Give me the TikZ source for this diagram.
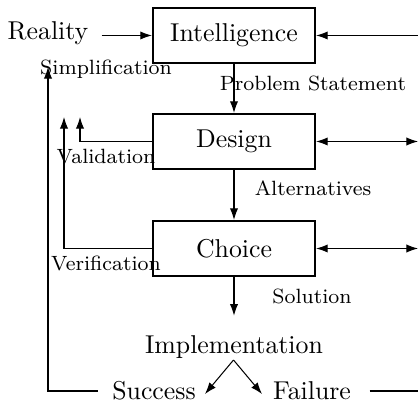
\documentclass[tikz,border=0pt]{standalone}
\usetikzlibrary{arrows.meta}
\begin{document}
\begin{tikzpicture}[x=0.3876pt,y=-0.3876pt,
  box/.style={draw,line width=0.85pt,minimum width=62.8pt,minimum height=21.3pt,inner sep=0pt},
  lbl/.style={font=\footnotesize,inner sep=0pt},
  txt/.style={inner sep=0pt},
  arr/.style={-{Latex[length=4.5pt,width=3.2pt]},line width=0.4pt},
  darr/.style={{Latex[length=4.5pt,width=3.2pt]}-{Latex[length=4.5pt,width=3.2pt]},line width=0.4pt},
  ln/.style={line width=0.4pt}]
\useasboundingbox (0,0) rectangle (418,402);
% nodes
\node[box] (intel) at (234,35.5) {Intelligence};
\node[box] (design) at (234,141.5) {Design};
\node[box] (choice) at (234,248.5) {Choice};
\node[txt] (reality) at (48,33) {Reality};
\node[txt] (impl) at (234,347) {Implementation};
\node[txt] (succ) at (154,391) {Success};
\node[txt] (fail) at (312,391) {Failure};
% labels
\node[lbl] (lsimp) at (106,69) {Simplification};
\node[lbl] (lprob) at (313,83) {Problem Statement};
\node[lbl] (lalt) at (313,188) {Alternatives};
\node[lbl] (lval) at (106,157) {Validation};
\node[lbl] (lver) at (106,263) {Verification};
\node[lbl] (lsol) at (312,296) {Solution};
% free-end coordinates
\coordinate (rI) at (418,35.5);
\coordinate (rD) at (418,141.5);
\coordinate (rC) at (418,248.5);
\coordinate (rF) at (418,391);
\coordinate (simptop) at (48,67);
\coordinate (valtop) at (80,117);
\coordinate (vertop) at (64,117);
\coordinate (apex) at (233.5,360);
\coordinate (stip) at (205,394);
\coordinate (ftip) at (262,394);
% connectors
\draw[arr] ([xshift=5pt]reality.east |- intel.west) -- (intel.west);
\draw[arr] (rI) -- (intel.east);
\draw[darr] (design.east) -- (rD);
\draw[darr] (choice.east) -- (rC);
\draw[arr] (intel.south) -- (design.north);
\draw[arr] (design.south) -- (choice.north);
\draw[arr] (choice.south) -- ([yshift=7.5pt]impl.north);
\draw[arr] (apex) -- (stip);
\draw[arr] (apex) -- (ftip);
\draw[arr] ([xshift=-5.5pt]succ.west) -| (simptop);
\draw[ln] ([xshift=7pt]fail.east) -- (rF);
\draw[arr] (design.west) -| (valtop);
\draw[arr] (choice.west) -| (vertop);
\end{tikzpicture}
\end{document}
